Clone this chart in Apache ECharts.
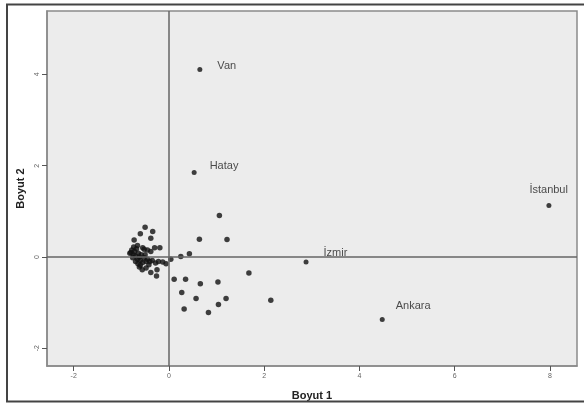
<!DOCTYPE html>
<html><head><meta charset="utf-8">
<script src="https://cdn.jsdelivr.net/npm/echarts@6/dist/echarts.min.js"></script>
<style>html,body{margin:0;padding:0;background:#fff}#c{width:584px;height:406px}</style>
</head><body><div id="c"></div>
<script>
// Unlabelled points [Boyut 1, Boyut 2]
const clusterPoints = [
  [-0.80,0.10],[-0.78,0.15],[-0.75,0.05],[-0.82,0.08],[-0.72,0.12],[-0.70,0.02],[-0.76,-0.02],
  [-0.68,0.18],[-0.66,-0.05],[-0.64,0.08],[-0.62,0.00],[-0.60,-0.08],[-0.58,0.05],[-0.70,-0.10],
  [-0.65,-0.15],[-0.55,-0.12],[-0.52,-0.02],[-0.50,0.05],[-0.48,-0.10],[-0.45,-0.05],[-0.42,-0.17],
  [-0.62,-0.22],[-0.56,-0.28],[-0.48,-0.24],[-0.40,-0.10],[-0.35,-0.08],[-0.28,-0.13],[-0.22,-0.10],
  [-0.13,-0.11],[-0.06,-0.15],[-0.38,-0.34],[-0.25,-0.28],[-0.26,-0.42],[-0.60,-0.18],[-0.74,0.22],
  [-0.66,0.25],[-0.55,0.20],[-0.45,0.15],[-0.38,0.12],[-0.52,0.17],[-0.30,0.20],[-0.19,0.20],
  [-0.73,0.37],[-0.38,0.41],[-0.60,0.51],[-0.34,0.56],[-0.50,0.65],[0.04,-0.05],[0.25,0.01],[0.43,0.07]
];
const spreadPoints = [
  [1.06,0.91],[0.64,0.39],[1.22,0.38],[1.68,-0.35],[0.11,-0.49],[0.35,-0.49],[0.66,-0.59],
  [1.03,-0.55],[0.27,-0.78],[0.57,-0.91],[1.20,-0.91],[1.04,-1.04],[2.14,-0.95],[0.32,-1.14],[0.83,-1.22]
];
// Labelled cities
const cityNames = ["Van","Hatay","İstanbul","İzmir","Ankara"];
const cityX = [0.65, 0.53, 7.98, 2.88, 4.48];
const cityY = [4.11, 1.85, 1.13, -0.11, -1.37];
const xTicks = [-2,0,2,4,6,8];
const yTicks = [-2,0,2,4];

const labelOffsets = {
  "Van":[10,-3], "Hatay":[8,-7], "İstanbul":[-27,-15], "İzmir":[10,-9], "Ankara":[6,-13]
};

const cityData = cityNames.map((n,i)=>({
  name:n, value:[cityX[i], cityY[i]],
  label:{show:true, formatter:n, position:'right', offset:labelOffsets[n]}
}));

const chart = echarts.init(document.getElementById('c'), null, {renderer:'canvas'});
const font = 'Liberation Sans, Arial, sans-serif';
chart.setOption({
  animation:false,
  backgroundColor:'#fff',
  grid:{left:47, right:7, top:11, bottom:37, show:true, backgroundColor:'#ececec', borderColor:'#8a8a8a', borderWidth:1.5},
  xAxis:{
    type:'value', min:-2.56, max:8.57,
    name:'Boyut 1', nameLocation:'middle', nameGap:24,
    nameTextStyle:{fontFamily:font, fontWeight:'bold', fontSize:11, color:'#222'},
    axisLine:{show:true, onZero:false, lineStyle:{color:'#8a8a8a', width:1.5}}, splitLine:{show:false},
    axisTick:{show:true, inside:false, length:5, customValues:xTicks, lineStyle:{color:'#555', width:1}},
    axisLabel:{customValues:xTicks, fontSize:7, color:'#666', fontFamily:font, margin:7}
  },
  yAxis:{
    type:'value', min:-2.39, max:5.39,
    name:'Boyut 2', nameLocation:'middle', nameGap:17, nameRotate:90,
    nameTextStyle:{fontFamily:font, fontWeight:'bold', fontSize:11, color:'#222'},
    axisLine:{show:true, onZero:false, lineStyle:{color:'#8a8a8a', width:1.5}}, splitLine:{show:false},
    axisTick:{show:true, inside:false, length:5, customValues:yTicks, lineStyle:{color:'#555', width:1}},
    axisLabel:{customValues:yTicks, fontSize:7, color:'#666', fontFamily:font, margin:6, rotate:90}
  },
  graphic:[{type:'rect', silent:true, z:100,
    shape:{x:7, y:4.5, width:600, height:397},
    style:{fill:null, stroke:'#444', lineWidth:2}}],
  series:[
    {type:'scatter', symbolSize:5.5, itemStyle:{color:'#111'}, data:clusterPoints.concat(spreadPoints),
     markLine:{silent:true, symbol:'none', label:{show:false},
       lineStyle:{color:'#666', width:1.5, type:'solid'},
       data:[{xAxis:0},{yAxis:0}]}},
    {type:'scatter', symbolSize:5, itemStyle:{color:'#111'},
     label:{fontFamily:font, fontSize:11, color:'#222'}, data:cityData}
  ]
});
</script></body></html>
